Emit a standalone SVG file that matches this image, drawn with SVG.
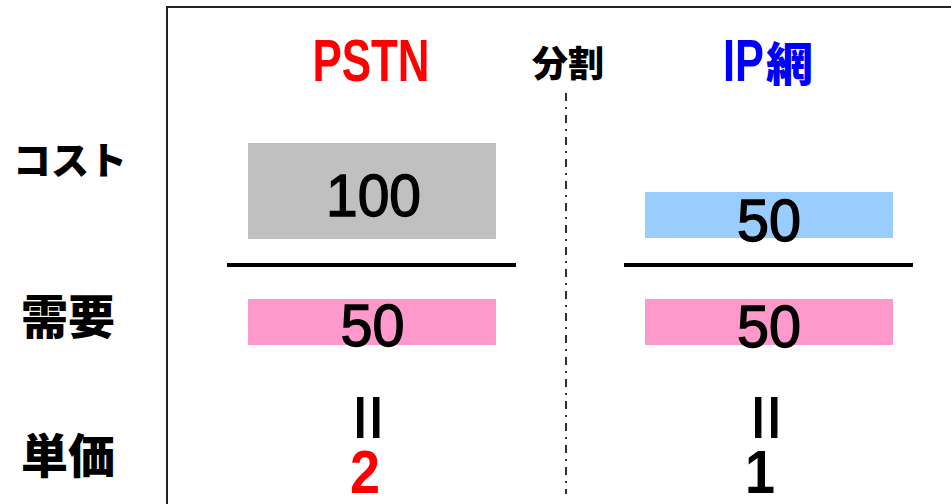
<svg xmlns="http://www.w3.org/2000/svg" width="951" height="504" viewBox="0 0 951 504">
<style>
.lat{font-family:"Liberation Sans",Arial,sans-serif;font-weight:bold}
.num{font-family:"Liberation Sans",Arial,sans-serif;font-weight:normal;font-size:60px;text-anchor:middle;stroke:#000;stroke-width:1.4}
.jp{font-family:"Noto Sans CJK JP","Noto Sans CJK SC",sans-serif;font-weight:900}
.bar{stroke:#000;stroke-width:4}
</style>
<rect width="951" height="504" fill="#fff"/>
<g id="frame"><path d="M167,504 V7 H951" fill="none" stroke="#222" stroke-width="2"/></g>
<g id="headers">
<text id="pstn" class="lat" x="371" y="81" font-size="60" fill="#f00" text-anchor="middle" textLength="117" lengthAdjust="spacingAndGlyphs">PSTN</text>
<text id="split" class="jp" x="532" y="77" font-size="36" fill="#000">分割</text>
<g id="ip"><text class="lat" x="723" y="81" font-size="60" fill="#00f" textLength="41" lengthAdjust="spacingAndGlyphs">IP</text><text class="jp" x="766" y="81" font-size="47" fill="#00f">網</text></g>
</g>
<g id="rowlabels">
<text id="cost" class="jp" x="13" y="174" font-size="38" fill="#000">コスト</text>
<text id="demand" class="jp" x="21" y="334" font-size="47" fill="#000">需要</text>
<text id="unit" class="jp" x="21" y="473" font-size="47" fill="#000">単価</text>
</g>
<g id="connectors">
<line x1="566" y1="93" x2="566" y2="494" stroke="#000" stroke-width="1.6" stroke-dasharray="8,6,2,6"/>
<line class="bar" x1="227" y1="265" x2="516" y2="265"/>
<line class="bar" x1="624" y1="265" x2="913" y2="265"/>
</g>
<g id="pstn-cost"><rect x="248" y="143" width="248" height="96" fill="#C0C0C0"/><text class="num" x="373.5" y="216" font-size="61" textLength="95" lengthAdjust="spacingAndGlyphs" fill="#000">100</text></g>
<g id="pstn-demand"><rect x="248" y="299" width="248" height="46" fill="#FF99CC"/><text class="num" x="372.5" y="346" textLength="64" lengthAdjust="spacingAndGlyphs" fill="#000">50</text></g>
<g id="ip-cost"><rect x="645" y="192" width="248" height="46" fill="#99CCFF"/><text class="num" x="769" y="241" textLength="64" lengthAdjust="spacingAndGlyphs" fill="#000">50</text></g>
<g id="ip-demand"><rect x="645" y="299" width="248" height="46" fill="#FF99CC"/><text class="num" x="769" y="347" textLength="64" lengthAdjust="spacingAndGlyphs" fill="#000">50</text></g>
<g id="pstn-unit">
<text class="lat" font-size="82" text-anchor="middle" fill="#000" transform="translate(368,417.5) rotate(90) scale(1,0.72)" x="0" y="27">=</text>
<text class="lat" x="365" y="493" font-size="62" fill="#f00" text-anchor="middle" textLength="30" lengthAdjust="spacingAndGlyphs">2</text>
</g>
<g id="ip-unit">
<text class="lat" font-size="82" text-anchor="middle" fill="#000" transform="translate(766,417.5) rotate(90) scale(1,0.72)" x="0" y="27">=</text>
<text class="lat" x="760" y="493" font-size="62" text-anchor="middle" fill="#000" textLength="30" lengthAdjust="spacingAndGlyphs">1</text>
</g>
</svg>
